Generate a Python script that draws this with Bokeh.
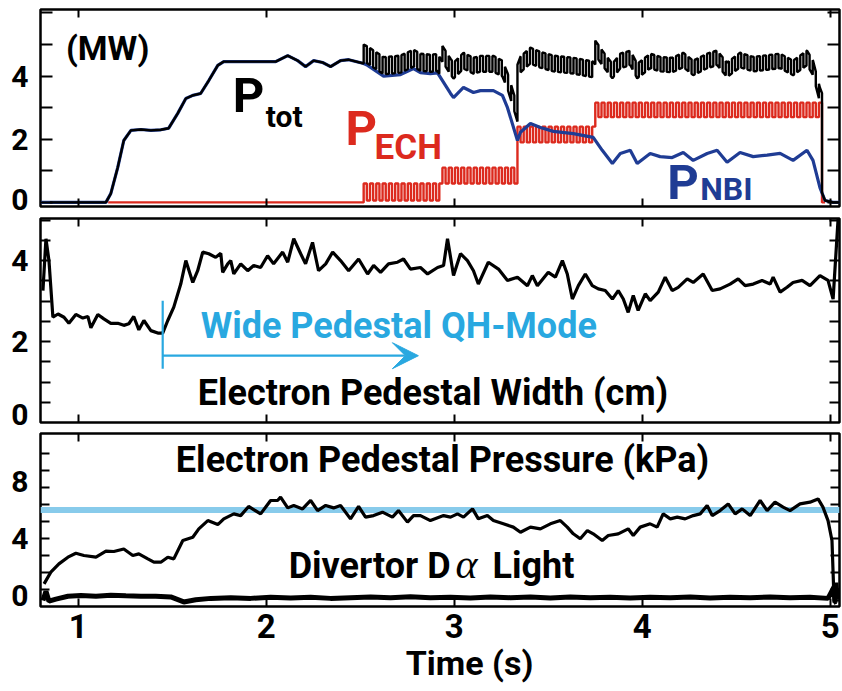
import numpy as np
from bokeh.plotting import figure
from bokeh.layouts import column
from bokeh.models import LinearAxis, FixedTicker, Label, Span, Arrow, VeeHead, Range1d
from bokeh.embed import file_html
from bokeh.resources import INLINE

# ---------------- data ----------------
# Neutral beam power (MW)
nbi_t = [0.802, 1.148, 1.174, 1.211, 1.243, 1.281, 1.334, 1.387, 1.440, 1.482, 1.530, 1.573,
         1.610, 1.652, 1.695, 1.743, 1.775, 1.918, 2.051, 2.115, 2.168, 2.210, 2.253, 2.301,
         2.343, 2.396, 2.439, 2.519, 2.540, 2.625, 2.715, 2.784, 2.821, 2.874, 2.912, 2.981,
         2.997, 3.050, 3.103, 3.140, 3.209, 3.257, 3.284, 3.337, 3.353, 3.406, 3.459, 3.528,
         3.634, 3.740, 3.788, 3.842, 3.884, 3.937, 3.974, 4.043, 4.096, 4.160, 4.219, 4.272,
         4.346, 4.399, 4.452, 4.521, 4.591, 4.665, 4.734, 4.803, 4.877, 4.909, 4.946, 4.973,
         5.016, 5.064]
nbi_p = [0.0, 0.0, 0.28, 1.11, 1.96, 2.28, 2.31, 2.28, 2.30, 2.35, 2.82, 3.29,
         3.39, 3.45, 3.86, 4.34, 4.46, 4.46, 4.46, 4.65, 4.49, 4.30, 4.49, 4.43,
         4.30, 4.49, 4.52, 4.40, 4.34, 4.00, 4.05, 4.24, 4.11, 4.08, 4.10, 3.45,
         3.32, 3.64, 3.48, 3.54, 3.54, 3.39, 3.00, 1.96, 2.22, 2.50, 2.37, 2.25,
         2.18, 2.06, 1.65, 1.23, 1.55, 1.65, 1.23, 1.55, 1.45, 1.42, 1.58, 1.33,
         1.55, 1.65, 1.27, 1.58, 1.45, 1.50, 1.55, 1.33, 1.65, 1.33, 0.47, 0.06,
         0.0, 0.0]

# ECH power: step times, modulation low / high levels (MW), modulation period (s)
ech_edges = [2.519, 2.938, 3.337, 3.751, 4.957]
ech_low = [0.06, 0.60, 1.90, 2.70]
ech_high = [0.60, 1.10, 2.40, 3.16]
ech_period = 0.033
ech_start, ech_stop = 1.16, 4.973

# Electron pedestal width (cm)
wid_t = [0.813, 0.829, 0.845, 0.866, 0.893, 0.925, 0.951, 0.988, 1.025, 1.052, 1.068, 1.105,
         1.137, 1.174, 1.211, 1.243, 1.270, 1.296, 1.323, 1.350, 1.387, 1.424, 1.450, 1.477,
         1.509, 1.546, 1.573, 1.610, 1.636, 1.663, 1.695, 1.732, 1.759, 1.769, 1.796, 1.812,
         1.828, 1.865, 1.902, 1.934, 1.971, 2.008, 2.040, 2.088, 2.115, 2.147, 2.184, 2.210,
         2.247, 2.279, 2.317, 2.354, 2.396, 2.439, 2.492, 2.540, 2.572, 2.609, 2.651, 2.699,
         2.731, 2.768, 2.821, 2.859, 2.912, 2.944, 2.965, 2.997, 3.034, 3.071, 3.103, 3.129,
         3.182, 3.236, 3.284, 3.337, 3.390, 3.416, 3.443, 3.501, 3.539, 3.576, 3.602, 3.629,
         3.661, 3.698, 3.735, 3.767, 3.804, 3.842, 3.873, 3.900, 3.926, 3.953, 3.979, 4.017,
         4.043, 4.086, 4.123, 4.160, 4.192, 4.240, 4.272, 4.325, 4.373, 4.415, 4.468, 4.511,
         4.548, 4.591, 4.638, 4.681, 4.697, 4.734, 4.771, 4.803, 4.851, 4.893, 4.946, 4.989,
         5.016, 5.042, 5.050]
wid_cm = [3.26, 4.54, 4.00, 2.60, 2.68, 2.60, 2.45, 2.67, 2.58, 2.62, 2.34, 2.67,
          2.56, 2.45, 2.45, 2.40, 2.44, 2.62, 2.29, 2.52, 2.27, 2.21, 2.21, 2.52,
          2.85, 3.42, 4.00, 3.46, 3.75, 4.21, 4.17, 4.08, 4.18, 3.71, 3.92, 4.00,
          3.67, 3.92, 3.75, 3.88, 3.83, 4.12, 3.92, 4.21, 3.96, 4.54, 4.17, 3.92,
          4.45, 3.75, 3.92, 4.21, 4.00, 3.75, 4.04, 3.67, 3.88, 3.71, 3.92, 3.96,
          4.04, 3.79, 3.83, 3.67, 3.83, 3.88, 4.54, 3.63, 4.17, 4.00, 3.75, 3.42,
          3.96, 3.79, 3.51, 3.59, 3.38, 3.63, 3.38, 3.71, 3.59, 4.00, 3.67, 3.05,
          3.38, 3.67, 3.38, 3.30, 3.26, 3.05, 3.26, 3.05, 2.72, 3.14, 2.77, 3.18,
          3.01, 3.22, 3.59, 3.26, 3.34, 3.55, 3.46, 3.67, 3.26, 3.30, 3.42, 3.55,
          3.38, 3.42, 3.51, 3.42, 3.59, 3.22, 3.34, 3.46, 3.51, 3.38, 3.63, 3.51,
          3.05, 4.99, 5.30]

# Electron pedestal pressure (kPa)
pre_t = [0.819, 0.855, 0.898, 0.946, 0.988, 1.031, 1.095, 1.148, 1.190, 1.243, 1.291, 1.323,
         1.371, 1.403, 1.440, 1.477, 1.509, 1.557, 1.610, 1.642, 1.690, 1.743, 1.775, 1.828,
         1.865, 1.907, 1.971, 2.024, 2.061, 2.077, 2.115, 2.147, 2.194, 2.237, 2.274, 2.317,
         2.359, 2.396, 2.449, 2.492, 2.529, 2.572, 2.619, 2.672, 2.704, 2.752, 2.784, 2.821,
         2.874, 2.944, 2.981, 3.018, 3.050, 3.098, 3.129, 3.177, 3.209, 3.262, 3.315, 3.353,
         3.406, 3.459, 3.512, 3.565, 3.602, 3.634, 3.671, 3.709, 3.740, 3.788, 3.820, 3.873,
         3.926, 3.953, 3.990, 4.043, 4.080, 4.112, 4.150, 4.187, 4.229, 4.272, 4.309, 4.346,
         4.373, 4.415, 4.458, 4.495, 4.532, 4.575, 4.628, 4.665, 4.707, 4.750, 4.787, 4.840,
         4.893, 4.936, 4.962, 4.989, 5.010, 5.021, 5.030]
pre_kpa = [0.82, 1.64, 2.22, 2.69, 2.97, 2.81, 2.69, 3.11, 3.09, 3.27, 2.81, 2.92,
           2.57, 2.34, 2.34, 2.69, 2.57, 3.86, 4.09, 4.68, 5.26, 4.98, 5.38, 5.73,
           5.61, 6.25, 5.73, 6.67, 6.67, 6.90, 6.15, 6.32, 6.08, 6.67, 5.96, 6.32,
           6.15, 6.32, 5.38, 6.25, 5.50, 5.61, 5.85, 5.50, 5.96, 5.15, 5.61, 5.61,
           5.26, 5.61, 5.50, 5.73, 5.50, 6.08, 5.38, 5.61, 5.26, 5.03, 4.80, 4.44,
           4.80, 4.68, 5.03, 5.26, 4.80, 4.33, 3.98, 4.56, 4.33, 3.86, 4.21, 4.33,
           4.68, 4.21, 4.80, 5.03, 4.80, 5.73, 5.38, 5.50, 5.38, 5.61, 5.73, 6.32,
           5.61, 5.96, 6.43, 5.73, 6.08, 5.61, 6.67, 5.96, 6.55, 6.20, 5.96, 6.43,
           6.55, 6.78, 6.20, 5.26, 3.86, -0.35, -0.60]

# Divertor D-alpha light (arb.)
dal_t = [0.813, 0.829, 0.845, 0.882, 0.946, 1.015, 1.095, 1.174, 1.254, 1.334, 1.413, 1.493,
         1.562, 1.626, 1.706, 1.812, 1.918, 2.024, 2.131, 2.237, 2.343, 2.449, 2.556, 2.662,
         2.768, 2.874, 2.981, 3.087, 3.193, 3.299, 3.406, 3.512, 3.618, 3.724, 3.830, 3.937,
         4.043, 4.150, 4.256, 4.362, 4.468, 4.575, 4.681, 4.787, 4.893, 4.989, 5.021, 5.026,
         5.031, 5.037, 5.042, 5.047]
dal_v = [-0.35, 0.30, -0.40, -0.25, -0.05, 0.00, -0.05, 0.02, -0.02, -0.05, -0.05, -0.10,
         -0.45, -0.30, -0.20, -0.15, -0.20, -0.12, -0.18, -0.12, -0.20, -0.15, -0.10, -0.15,
         -0.08, -0.15, -0.12, -0.18, -0.10, -0.15, -0.10, -0.18, -0.10, -0.15, -0.12, -0.18,
         -0.12, -0.15, -0.10, -0.18, -0.12, -0.15, -0.10, -0.15, -0.12, -0.20, 0.60, -0.50,
         0.90, -0.40, 0.50, -0.30]

ped_ref_kpa = 6.0       # reference pressure level
qh_start, qh_arrow_end, qh_arrow_y = 1.45, 2.81, 1.65
qh_bar = [1.33, 3.01]

time_ticks = [1, 2, 3, 4, 5]

# ---------------- derived traces ----------------
# modulated ECH trace
ech_t, ech_v = [ech_start, ech_edges[0]], [0.0, 0.0]
for a, b, lo, hi in zip(ech_edges[:-1], ech_edges[1:], ech_low, ech_high):
    n = max(1, int(round((b - a) / (ech_period / 2))))
    half = (b - a) / n
    for k in range(n):
        lvl = hi if k % 2 == 0 else lo
        ech_t += [a + k * half, a + (k + 1) * half]
        ech_v += [lvl, lvl]
ech_t += [ech_edges[-1], ech_stop]
ech_v += [0.0, 0.0]

# total heating power = NBI + ECH
tot_t, tot_v = [0.85], [0.0]
for tk, nk in zip(nbi_t, nbi_p):
    if 0.85 < tk < ech_start:
        tot_t.append(tk); tot_v.append(nk)
for j in range(len(ech_t)):
    tj, ej = ech_t[j], ech_v[j]
    tot_t.append(tj); tot_v.append(ej + float(np.interp(tj, nbi_t, nbi_p)))
    if j + 1 < len(ech_t) and ech_t[j + 1] > tj:
        for tk, nk in zip(nbi_t, nbi_p):
            if tj < tk < ech_t[j + 1]:
                tot_t.append(tk); tot_v.append(ej + nk)
for tk, nk in zip(nbi_t, nbi_p):
    if tk > ech_stop:
        tot_t.append(tk); tot_v.append(nk)

# ---------------- styling ----------------
FONT = "Roboto"
RED = "#DC2A1E"
NAVY = "#1F3C94"
CYAN = "#29A8E0"
LIGHT = "#88CBEB"
X0, X1 = 0.80, 5.05


def make_fig(height, yr, top, bottom):
    p = figure(width=842, height=height, x_range=Range1d(X0, X1), y_range=Range1d(*yr),
               output_backend="svg", toolbar_location=None,
               min_border_left=40, min_border_right=3,
               min_border_top=top, min_border_bottom=bottom)
    p.grid.visible = False
    p.outline_line_color = "black"
    p.outline_line_width = 2.5
    p.background_fill_color = "white"
    p.border_fill_color = "white"
    return p


def marks_only(ax, marks, length):
    """Axis that draws inward tick marks only, no labels."""
    ax.ticker = FixedTicker(ticks=[], minor_ticks=marks)
    ax.axis_line_color = None
    ax.major_tick_in = 0
    ax.major_tick_out = 0
    ax.minor_tick_in = length
    ax.minor_tick_out = 0
    ax.minor_tick_line_width = 2
    ax.minor_tick_line_color = "black"
    ax.major_label_standoff = 0


def labelled(ax, label_at, texts, marks, length, size, standoff, tick_len=0):
    ax.ticker = FixedTicker(ticks=label_at, minor_ticks=marks)
    ax.major_label_overrides = {k: s for k, s in zip(label_at, texts)}
    ax.axis_line_color = None
    ax.major_tick_in = tick_len
    ax.major_tick_out = 0
    ax.major_tick_line_width = 2
    ax.major_tick_line_color = "black"
    ax.minor_tick_in = length
    ax.minor_tick_out = 0
    ax.minor_tick_line_width = 2
    ax.minor_tick_line_color = "black"
    ax.major_label_text_font = FONT
    ax.major_label_text_font_style = "bold"
    ax.major_label_text_font_size = size
    ax.major_label_text_color = "black"
    ax.major_label_standoff = standoff


def frame_axes(p, label_at, texts, marks, length, bottom_labels=False):
    bottom = p.xaxis[0]
    if bottom_labels:
        labelled(bottom, time_ticks, [str(v) for v in time_ticks], [], 0, "33px", 7,
                 tick_len=8)
    else:
        marks_only(bottom, time_ticks, 8)
    top = LinearAxis()
    marks_only(top, time_ticks, 8)
    p.add_layout(top, "above")
    labelled(p.yaxis[0], label_at, texts, marks, length, "30px", 12)
    right = LinearAxis()
    marks_only(right, marks, length)
    p.add_layout(right, "right")
    return bottom


def text(p, x, y, s, size, color="black", font=FONT, style_="bold", align="left"):
    p.add_layout(Label(x=x, y=y, text=s, text_font=font, text_font_size=size,
                       text_font_style=style_, text_color=color, text_align=align,
                       text_baseline="alphabetic"))


# ---------------- panel 1: heating power ----------------
p1 = make_fig(217, (-0.13, 6.11), 9, 11)
frame_axes(p1, [0.1, 2, 4], ["0", "2", "4"], [0, 1, 2, 3, 4, 5, 6], 12)
p1.line(ech_t, ech_v, line_color=RED, line_width=2.4)
p1.line(nbi_t, nbi_p, line_color=NAVY, line_width=3.2)
p1.line(tot_t, tot_v, line_color="black", line_width=2.4)
text(p1, 0.935, 4.88, "(MW)", "34px")
text(p1, 1.823, 3.38, "P", "49px")
text(p1, 1.998, 2.71, "tot", "30px")
text(p1, 2.423, 2.33, "P", "49px", RED)
text(p1, 2.577, 1.73, "ECH", "35px", RED)
text(p1, 4.134, 0.62, "P", "49px", NAVY)
text(p1, 4.309, 0.44, "NBI", "32px", NAVY)

# ---------------- panel 2: pedestal width ----------------
p2 = make_fig(215, (0.0, 5.04), 1, 10)
frame_axes(p2, [0.2, 2, 4], ["0", "2", "4"],
           [0.5, 1, 1.5, 2, 2.5, 3, 3.5, 4, 4.5, 5], 10)
p2.line(wid_t, wid_cm, line_color="black", line_width=3.2)
p2.segment(x0=[qh_start], y0=[qh_bar[0]], x1=[qh_start], y1=[qh_bar[1]],
           line_color=CYAN, line_width=2.2)
p2.add_layout(Arrow(end=VeeHead(size=26, fill_color=CYAN, line_color=CYAN),
                    x_start=qh_start, y_start=qh_arrow_y, x_end=qh_arrow_end, y_end=qh_arrow_y,
                    line_color=CYAN, line_width=2.2))
text(p2, 1.652, 2.39, "Wide Pedestal QH-Mode", "36px", CYAN)
text(p2, 1.636, 0.74, "Electron Pedestal Width (cm)", "36px")

# ---------------- panel 3: pedestal pressure and D-alpha ----------------
p3 = make_fig(259, (-0.77, 11.37), 1, 85)
xa = frame_axes(p3, [0, 4, 8], ["0", "4", "8"],
                [0.4, 1.6, 2.8, 4.0, 5.2, 6.4, 7.6, 8.8, 10.0], 9, bottom_labels=True)
p3.add_layout(Span(location=ped_ref_kpa, dimension="width", line_color=LIGHT,
                   line_width=6, level="underlay"))
p3.line(dal_t, dal_v, line_color="black", line_width=5)
p3.line(pre_t, pre_kpa, line_color="black", line_width=3.2)
text(p3, 1.520, 9.54, "Electron Pedestal Pressure (kPa)", "36px")
text(p3, 2.120, 2.10, "Divertor D", "36px")
text(p3, 3.008, 2.20, "\u03b1", "42px", font="Liberation Serif", style_="italic")
text(p3, 3.204, 2.10, "Light", "36px")
xa.axis_label = "\u00a0" * 7 + "Time (s)"
xa.axis_label_text_font = FONT
xa.axis_label_text_font_style = "bold"
xa.axis_label_text_font_size = "34px"
xa.axis_label_text_color = "black"
xa.axis_label_standoff = 2

layout = column(p1, p2, p3, spacing=0)
open("out.html", "w").write(file_html(layout, INLINE))
